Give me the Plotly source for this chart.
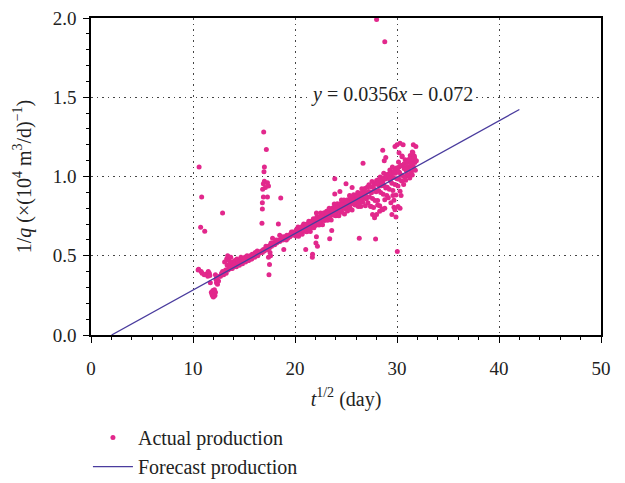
import plotly.graph_objects as go

# ---- data ----
early_x = [10.55, 10.6, 10.75, 10.85, 11.15, 10.8, 10.5, 10.9, 11.1, 11.3, 11.45, 11.6, 11.7, 11.8, 11.9,
           11.95, 12.0, 12.05, 12.1, 12.15, 12.2, 12.3, 11.85, 12.0, 12.25, 12.2, 12.4, 12.5, 12.6, 12.3,
           11.5, 11.65, 12.9]
early_y = [0.415, 1.06, 0.68, 0.87, 0.655, 0.40, 0.41, 0.39, 0.38, 0.385, 0.37, 0.39, 0.33, 0.27, 0.25,
           0.28, 0.24, 0.26, 0.285, 0.25, 0.27, 0.33, 0.26, 0.245, 0.35, 0.38, 0.32, 0.34, 0.37, 0.36,
           0.40, 0.375, 0.77]

band1_x = [12.7, 12.8, 12.9, 13.0, 13.1, 13.2, 13.3, 13.35, 13.4, 13.5, 13.55, 13.6, 13.7, 13.8, 13.9,
           14.0, 14.1, 14.2, 14.3, 14.4, 14.5, 14.6, 14.7, 14.8, 14.9, 15.0, 15.1, 15.2, 15.3, 15.4,
           15.5, 15.6, 15.7, 15.8, 15.9, 16.0, 16.1, 16.2, 16.3, 16.4, 16.5, 13.25, 13.45, 13.65, 13.85,
           14.05, 14.25, 14.55, 14.85, 15.15, 15.45, 15.75, 16.05, 16.35]
band1_y = [0.37, 0.39, 0.40, 0.38, 0.46, 0.41, 0.48, 0.44, 0.50, 0.42, 0.47, 0.45, 0.49, 0.43, 0.46,
           0.44, 0.47, 0.45, 0.48, 0.46, 0.45, 0.47, 0.49, 0.46, 0.48, 0.47, 0.49, 0.48, 0.50, 0.47,
           0.49, 0.50, 0.48, 0.51, 0.50, 0.50, 0.52, 0.51, 0.53, 0.51, 0.52, 0.39, 0.41, 0.42, 0.42,
           0.43, 0.43, 0.44, 0.45, 0.46, 0.47, 0.48, 0.49, 0.50]

spike_x = [16.93, 17.19, 17.0, 16.96, 16.83, 16.9, 17.0, 17.1, 17.3, 17.4, 16.9, 17.3, 16.8, 16.76, 16.8,
           17.45, 17.5, 17.4, 17.55, 17.6, 17.8, 18.5, 18.37, 18.6, 18.9]
spike_y = [1.28, 1.17, 1.06, 1.03, 0.92, 0.955, 0.97, 0.93, 0.96, 0.94, 0.87, 0.87, 0.835, 0.705, 0.795,
           0.38, 0.445, 0.49, 0.52, 0.50, 0.61, 0.63, 0.70, 0.865, 0.54]

band2_x = [16.6, 16.7, 16.8, 16.9, 17.0, 17.1, 17.2, 17.3, 17.4, 17.5, 17.6, 17.7, 17.8, 17.9, 18.0,
           18.1, 18.2, 18.3, 18.4, 18.5, 18.6, 18.7, 18.8, 18.9, 19.0, 19.1, 19.2, 19.3, 19.4, 19.5,
           19.6, 19.7, 19.8, 19.9, 20.0, 17.15, 17.65, 18.15, 18.65, 19.15, 19.65]
band2_y = [0.52, 0.53, 0.52, 0.54, 0.53, 0.54, 0.55, 0.54, 0.56, 0.55, 0.57, 0.56, 0.57, 0.58, 0.57,
           0.59, 0.58, 0.59, 0.60, 0.59, 0.60, 0.61, 0.60, 0.62, 0.61, 0.62, 0.63, 0.61, 0.63, 0.62,
           0.64, 0.63, 0.65, 0.64, 0.63, 0.56, 0.58, 0.60, 0.62, 0.60, 0.65]

band3_x = [20.05, 20.1, 20.15, 20.2, 20.25, 20.3, 20.35, 20.4, 20.45, 20.5, 20.55, 20.6, 20.65, 20.7, 20.75,
           20.8, 20.85, 20.9, 20.95, 21.0,
           21.05, 21.1, 21.15, 21.2, 21.25, 21.3, 21.35, 21.4, 21.45, 21.5, 21.55, 21.6, 21.65, 21.7, 21.75,
           21.8, 21.85, 21.9, 21.95, 22.0,
           22.05, 22.1, 22.15, 22.2, 22.25, 22.3, 22.35, 22.4, 22.45, 22.5, 22.55, 22.6, 22.65, 22.7, 22.75,
           22.8, 22.85, 22.9, 22.95, 23.0,
           23.05, 23.1, 23.15, 23.2, 23.25, 23.3, 23.35, 23.4, 23.45, 23.5, 23.55, 23.6, 23.65, 23.7, 23.75,
           23.8, 23.85, 23.9, 23.95, 24.0]
band3_y = [0.652, 0.624, 0.665, 0.637, 0.649, 0.681, 0.623, 0.664, 0.646, 0.678, 0.640, 0.661, 0.673, 0.635, 0.687,
           0.658, 0.700, 0.672, 0.654, 0.686,
           0.667, 0.699, 0.651, 0.693, 0.685, 0.666, 0.718, 0.680, 0.712, 0.653, 0.705, 0.697, 0.679, 0.721, 0.692,
           0.734, 0.676, 0.718, 0.709, 0.691,
           0.733, 0.705, 0.746, 0.698, 0.720, 0.732, 0.694, 0.745, 0.717, 0.769, 0.711, 0.732, 0.744, 0.696, 0.758,
           0.730, 0.771, 0.723, 0.745, 0.757,
           0.729, 0.780, 0.752, 0.724, 0.776, 0.747, 0.799, 0.741, 0.773, 0.765, 0.726, 0.788, 0.760, 0.802, 0.773,
           0.755, 0.827, 0.769, 0.801, 0.752]

band4_x = [24.05, 24.1, 24.15, 24.2, 24.25, 24.3, 24.35, 24.4, 24.45, 24.5, 24.55, 24.6, 24.65, 24.7, 24.75,
           24.8, 24.85, 24.9, 24.95, 25.0,
           25.05, 25.1, 25.15, 25.2, 25.25, 25.3, 25.35, 25.4, 25.45, 25.5, 25.55, 25.6, 25.65, 25.7, 25.75,
           25.8, 25.85, 25.9, 25.95, 26.0,
           26.05, 26.1, 26.15, 26.2, 26.25, 26.3, 26.35, 26.4, 26.45, 26.5, 26.55, 26.6, 26.65, 26.7, 26.75,
           26.8, 26.85, 26.9, 26.95, 27.0]
band4_y = [0.794, 0.756, 0.828, 0.780, 0.811, 0.753, 0.795, 0.827, 0.778, 0.810, 0.852, 0.774, 0.805, 0.827, 0.799,
           0.851, 0.763, 0.824, 0.796, 0.848,
           0.810, 0.852, 0.783, 0.845, 0.827, 0.809, 0.880, 0.802, 0.844, 0.866, 0.828, 0.789, 0.861, 0.843, 0.885,
           0.826, 0.858, 0.820, 0.882, 0.854,
           0.875, 0.837, 0.899, 0.811, 0.862, 0.894, 0.836, 0.878, 0.810, 0.891, 0.923, 0.865, 0.837, 0.908, 0.880,
           0.862, 0.924, 0.816, 0.897, 0.859]

band5_x = [27.05, 27.1, 27.15, 27.2, 27.25, 27.3, 27.35, 27.4, 27.45, 27.5, 27.55, 27.6, 27.65, 27.7, 27.75,
           27.8, 27.85, 27.9, 27.95, 28.0,
           28.05, 28.1, 28.15, 28.2, 28.25, 28.3, 28.35, 28.4, 28.45, 28.5, 28.55, 28.6, 28.65, 28.7, 28.75,
           28.8, 28.85, 28.9, 28.95, 29.0,
           29.05, 29.1, 29.15, 29.2, 29.25, 29.3, 29.35, 29.4, 29.45, 29.5, 29.55, 29.6, 29.65, 29.7, 29.75,
           29.8, 29.85, 29.9, 29.95, 30.0]
band5_y = [0.871, 0.933, 0.835, 0.906, 0.948, 0.870, 0.902, 0.813, 0.935, 0.897, 0.969, 0.861, 0.932, 0.804, 0.956,
           0.918, 0.849, 0.951, 0.903, 0.975,
           0.957, 0.849, 0.980, 0.912, 0.944, 0.816, 0.997, 0.899, 0.941, 0.983, 0.795, 0.966, 0.888, 1.020, 0.942,
           0.853, 0.985, 0.927, 1.009, 0.880,
           0.932, 1.014, 0.866, 0.988, 0.919, 1.041, 0.973, 0.835, 1.017, 0.958, 1.060, 0.912, 0.994, 0.806, 1.037,
           0.949, 1.021, 0.883, 1.054, 0.986]

band6_x = [30.05, 30.1, 30.15, 30.2, 30.25, 30.3, 30.35, 30.4, 30.45, 30.5, 30.55, 30.6, 30.65, 30.7, 30.75,
           30.8, 30.85, 30.9, 30.95, 31.0,
           31.05, 31.1, 31.15, 31.2, 31.25, 31.3, 31.35, 31.4, 31.45, 31.5, 31.55, 31.6, 31.65, 31.7, 31.75, 31.8]
band6_y = [1.038, 0.940, 1.092, 0.983, 1.025, 0.907, 1.069, 1.010, 0.972, 1.124, 1.006, 1.068, 0.949, 1.051, 0.993,
           1.105, 0.976, 1.038, 1.090, 1.012,
           1.063, 1.005, 1.107, 1.039, 0.991, 1.132, 1.064, 1.026, 1.098, 1.009, 1.151, 1.063, 1.045, 1.117, 1.088, 1.040]

dense_x = [20.12, 20.38, 20.62, 20.88, 21.12, 21.38, 21.62, 21.88, 22.12, 22.38, 22.62, 22.88, 23.12, 23.38,
           23.62, 23.88, 24.12, 24.38, 24.62, 24.88, 25.12, 25.38, 25.62, 25.88, 26.12, 26.38, 26.62, 26.88,
           28.2, 28.45, 28.7, 28.95, 29.2, 29.45, 29.7, 29.95, 30.2, 30.45, 30.7, 30.95, 31.2, 31.45, 31.7,
           31.35, 30.85, 30.15, 29.35, 28.55]
dense_y = [0.659, 0.644, 0.677, 0.661, 0.695, 0.679, 0.713, 0.697, 0.731, 0.715, 0.748, 0.733, 0.766, 0.750,
           0.784, 0.768, 0.802, 0.786, 0.819, 0.804, 0.837, 0.822, 0.855, 0.839, 0.873, 0.857, 0.891, 0.875,
           0.96, 0.97, 0.99, 1.00, 1.01, 1.02, 1.03, 1.05, 1.06, 1.07, 1.08, 1.09, 1.10, 1.11, 1.13,
           1.08, 1.05, 1.03, 0.99, 0.95]

outlier_x = [21.05, 21.7, 21.72, 22.2, 22.05, 22.1, 23.4, 23.6, 22.1, 26.3, 27.9, 30.03,
             23.9, 25.0, 23.9, 24.4, 25.4, 25.6, 26.67, 28.6, 28.75, 28.9, 29.8, 30.0, 30.3, 30.6,
             31.6, 31.85, 30.2, 30.5, 31.5, 31.7, 31.9, 28.0, 28.8,
             27.45, 27.6, 27.8, 28.0, 28.1, 28.3, 28.6, 28.8, 29.5, 29.8, 29.9, 30.1, 30.3, 29.7, 30.4, 29.6]
outlier_y = [0.54, 0.49, 0.51, 0.56, 0.58, 0.62, 0.607, 0.66, 0.77, 0.61, 0.605, 0.527,
             0.986, 0.955, 0.89, 0.905, 0.87, 0.93, 1.083, 1.165, 1.10, 1.12, 1.19, 1.20, 1.21, 1.20,
             1.20, 1.19, 1.15, 1.13, 1.155, 1.12, 1.10, 1.99, 1.85,
             0.81, 0.76, 0.74, 0.76, 0.82, 0.78, 0.79, 0.80, 0.76, 0.79, 0.745, 0.81, 0.80, 0.85, 0.88, 0.88]

fit_x = [2.02, 42.0]
fit_y = [0.0, 1.423]

x_ticks = [0, 10, 20, 30, 40, 50]
y_ticks = [0.0, 0.5, 1.0, 1.5, 2.0]

actual_x = early_x + band1_x + spike_x + band2_x + band3_x + band4_x + band5_x + band6_x + dense_x + outlier_x
actual_y = early_y + band1_y + spike_y + band2_y + band3_y + band4_y + band5_y + band6_y + dense_y + outlier_y

FONT = "Liberation Serif"
PINK = "#E2288C"
BLUE = "#4A3C9E"
TXT = "#222"

fig = go.Figure()
fig.add_trace(go.Scatter(x=actual_x, y=actual_y, mode="markers", name="Actual production",
                         legendgroup="a",
                         marker=dict(color=PINK, size=5, line=dict(width=0))))
fig.add_trace(go.Scatter(x=fit_x, y=fit_y, mode="lines", name="Forecast production",
                         legendgroup="b",
                         line=dict(color=BLUE, width=1.3)))

axis_common = dict(showgrid=True, gridcolor="#444", griddash="1.5px,4px", gridwidth=1,
                   showline=True, linecolor="black", linewidth=1.6, mirror=True,
                   ticks="outside", ticklen=6, tickcolor="black", tickwidth=1,
                   zeroline=False, tickfont=dict(family=FONT, size=19, color=TXT))

fig.update_xaxes(range=[0, 50], tickvals=x_ticks, ticklabelstandoff=9,
                 minor=dict(dtick=2, ticks="outside", ticklen=3, tickcolor="black", showgrid=False),
                 title=dict(text="<i>t</i><sup>1/2</sup> (day)", font=dict(family=FONT, size=20, color=TXT),
                            standoff=14),
                 **axis_common)
fig.update_yaxes(range=[0, 2], tickvals=y_ticks, tickformat=".1f", ticklabelstandoff=3,
                 minor=dict(dtick=0.1, ticks="outside", ticklen=3, tickcolor="black", showgrid=False),
                 title=dict(text="1/<i>q</i> (×(10<sup>4</sup> m<sup>3</sup>/d)<sup>−1</sup>)",
                            font=dict(family=FONT, size=20, color=TXT), standoff=16),
                 **axis_common)

fig.add_annotation(x=29.5, y=1.52, xref="x", yref="y", showarrow=False,
                   text="<i>y</i> = 0.0356<i>x</i> − 0.072", bgcolor="white",
                   font=dict(family=FONT, size=20, color=TXT))

fig.update_layout(width=625, height=483,
                  margin=dict(l=91, r=24, t=17.5, b=147.5, autoexpand=False),
                  plot_bgcolor="white", paper_bgcolor="white",
                  font=dict(family=FONT, size=20, color=TXT),
                  showlegend=True,
                  legend=dict(x=-0.006, y=-0.262, xanchor="left", yanchor="top",
                              orientation="v", tracegroupgap=0, itemwidth=40,
                              font=dict(family=FONT, size=20, color=TXT),
                              bgcolor="rgba(0,0,0,0)"))

fig.write_html("out.html")
